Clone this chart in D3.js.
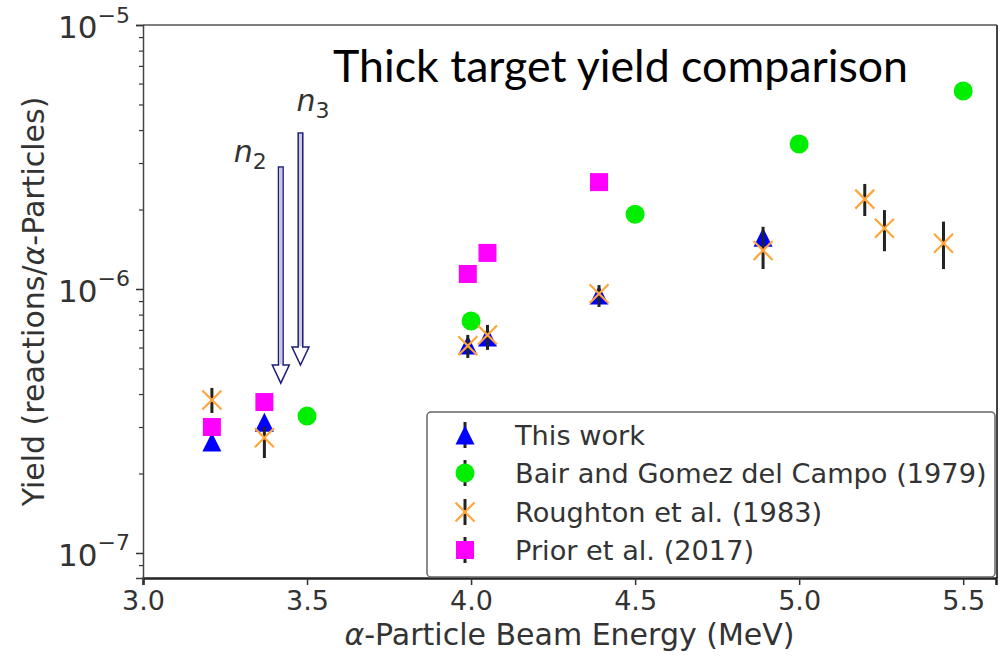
<!DOCTYPE html>
<html>
<head>
<meta charset="utf-8">
<script src="https://cdn.jsdelivr.net/npm/d3@7"></script>
<style>
  html, body { margin: 0; padding: 0; background: #fff; }
  svg { display: block; }
  text { font-family: "DejaVu Sans", sans-serif; }
</style>
</head>
<body>
<svg id="chart" width="1006" height="657"></svg>
<script>
// ---- data -------------------------------------------------------------
// This work (beam energy in MeV, thick target yield)
const thisWorkE = [3.21, 3.37, 3.99, 4.05, 4.39, 4.89];
const thisWorkY = [2.63e-7, 3.13e-7, 6.14e-7, 6.58e-7, 9.48e-7, 1.57e-6];
const thisWorkErr = [0.08e-7, 0.10e-7, 0.25e-7, 0.25e-7, 0.35e-7, 0.6e-7];

// Bair and Gomez del Campo (1979)
const bairE = [3.50, 4.00, 4.50, 5.00, 5.50];
const bairY = [3.30e-7, 7.57e-7, 1.92e-6, 3.54e-6, 5.62e-6];

// Roughton et al. (1983), with lower / upper error
const roughE = [3.21, 3.37, 3.99, 4.05, 4.39, 4.89, 5.20, 5.26, 5.44];
const roughY = [3.80e-7, 2.73e-7, 6.10e-7, 6.70e-7, 9.60e-7, 1.40e-6, 2.19e-6, 1.70e-6, 1.49e-6];
const roughErrLo = [0.41e-7, 0.44e-7, 0.62e-7, 0.82e-7, 1.05e-7, 0.21e-6, 0.30e-6, 0.31e-6, 0.30e-6];
const roughErrHi = [0.42e-7, 0.27e-7, 0.60e-7, 0.61e-7, 0.75e-7, 0.32e-6, 0.31e-6, 0.29e-6, 0.31e-6];

// Prior et al. (2017)
const priorE = [3.21, 3.37, 3.99, 4.05, 4.39];
const priorY = [3.00e-7, 3.73e-7, 1.14e-6, 1.37e-6, 2.54e-6];

// Resonance arrows (energy, tip yield, tail yield, label subscript)
const arrowE = [3.42, 3.48];
const arrowTip = [4.40e-7, 5.15e-7];
const arrowTail = [2.90e-6, 3.90e-6];
const arrowSub = ["2", "3"];

const xTicks = [3.0, 3.5, 4.0, 4.5, 5.0, 5.5];
const yMajor = [1e-7, 1e-6, 1e-5];
const yExp = ["−7", "−6", "−5"];
const legendLabels = ["This work", "Bair and Gomez del Campo (1979)", "Roughton et al. (1983)", "Prior et al. (2017)"];

// ---- layout -----------------------------------------------------------
const svg = d3.select("#chart");
const L = 143, R = 996, T = 25, B = 578;

const x = d3.scaleLinear().domain([3.0, 5.6]).range([L, R]);
const y = d3.scaleLog().domain([8.04e-8, 1e-5]).range([B, T]);

const ink = "#333";

// frame: top & right spines
svg.append("line").attr("x1", L).attr("x2", R + 1).attr("y1", T).attr("y2", T)
  .attr("stroke", "#555").attr("stroke-width", 1.5);
svg.append("line").attr("x1", R + 1).attr("x2", R + 1).attr("y1", T).attr("y2", B)
  .attr("stroke", "#444").attr("stroke-width", 2);

// x axis
const gx = svg.append("g").attr("transform", `translate(0,${B})`)
  .call(d3.axisBottom(x).tickValues(xTicks).tickFormat(d3.format(".1f")).tickSize(7).tickPadding(6));
gx.select(".domain").attr("stroke", "#222").attr("stroke-width", 2.5);
gx.selectAll(".tick line").attr("stroke", ink).attr("stroke-width", 1.5);
gx.selectAll(".tick text").attr("fill", ink).attr("font-size", 27).attr("font-family", "DejaVu Sans");

// y axis: minor ticks
const yMinor = [];
[1e-8, 1e-7, 1e-6].forEach(dec => { for (let k = 2; k <= 9; k++) { const v = k * dec; if (v >= 8.04e-8 && v < 1e-5) yMinor.push(v); } });
const gyMinor = svg.append("g").attr("transform", `translate(${L},0)`)
  .call(d3.axisLeft(y).tickValues(yMinor).tickFormat("").tickSize(4));
gyMinor.select(".domain").remove();
gyMinor.selectAll(".tick line").attr("stroke", ink).attr("stroke-width", 1.2);

// y axis: major ticks with power-of-ten labels
const gy = svg.append("g").attr("transform", `translate(${L},0)`)
  .call(d3.axisLeft(y).tickValues(yMajor).tickFormat("").tickSize(7));
gy.select(".domain").attr("stroke", "#444").attr("stroke-width", 1.5);
gy.selectAll(".tick line").attr("stroke", ink).attr("stroke-width", 1.5);
gy.selectAll(".tick").each(function (d, i) {
  const t = d3.select(this).append("text")
    .attr("x", -13).attr("y", 0).attr("dy", "0.4em")
    .attr("text-anchor", "end").attr("fill", ink).attr("font-size", 31);
  t.append("tspan").text("10");
  t.append("tspan").attr("font-size", 22).attr("dy", "-0.7em").text(yExp[i]);
});

// axis titles
const xl = svg.append("text").attr("x", (L + R) / 2).attr("y", 645)
  .attr("text-anchor", "middle").attr("fill", ink).attr("font-size", 30);
xl.append("tspan").attr("font-style", "italic").text("α");
xl.append("tspan").text("-Particle Beam Energy (MeV)");

const yl = svg.append("text")
  .attr("transform", `translate(44,${(T + B) / 2}) rotate(-90)`)
  .attr("text-anchor", "middle").attr("fill", ink).attr("font-size", 30);
yl.append("tspan").text("Yield (reactions/");
yl.append("tspan").attr("font-style", "italic").text("α");
yl.append("tspan").text("-Particles)");

// ---- marker shapes ----------------------------------------------------
const triPath = s => `M0,${-s}L${-s},${s}L${s},${s}Z`;
const xPath = s => `M${-s},${-s}L${s},${s}M${-s},${s}L${s},${-s}`;
const BLUE = "#0000ff", GREEN = "#00ee00", ORANGE = "#ffa53a", MAGENTA = "#ff00ff", BAR = "#222";

const plot = svg.append("g");

// This work
const tw = d3.range(thisWorkE.length);
plot.append("g").selectAll("line").data(tw).join("line")
  .attr("x1", i => x(thisWorkE[i])).attr("x2", i => x(thisWorkE[i]))
  .attr("y1", i => y(thisWorkY[i] - thisWorkErr[i])).attr("y2", i => y(thisWorkY[i] + thisWorkErr[i]))
  .attr("stroke", BAR).attr("stroke-width", 3);
plot.append("g").selectAll("path").data(tw).join("path")
  .attr("transform", i => `translate(${x(thisWorkE[i])},${y(thisWorkY[i])})`)
  .attr("d", triPath(9.5)).attr("fill", BLUE);

// Bair and Gomez del Campo
plot.append("g").selectAll("circle").data(d3.range(bairE.length)).join("circle")
  .attr("cx", i => x(bairE[i])).attr("cy", i => y(bairY[i])).attr("r", 9.5).attr("fill", GREEN);

// Roughton et al.
const rg = d3.range(roughE.length);
plot.append("g").selectAll("line").data(rg).join("line")
  .attr("x1", i => x(roughE[i])).attr("x2", i => x(roughE[i]))
  .attr("y1", i => y(roughY[i] - roughErrLo[i])).attr("y2", i => y(roughY[i] + roughErrHi[i]))
  .attr("stroke", BAR).attr("stroke-width", 3);
plot.append("g").selectAll("path").data(rg).join("path")
  .attr("transform", i => `translate(${x(roughE[i])},${y(roughY[i])})`)
  .attr("d", xPath(9.5)).attr("fill", "none").attr("stroke", ORANGE).attr("stroke-width", 2.2);

// Prior et al.
plot.append("g").selectAll("rect").data(d3.range(priorE.length)).join("rect")
  .attr("x", i => x(priorE[i]) - 9).attr("y", i => y(priorY[i]) - 9)
  .attr("width", 18).attr("height", 18).attr("fill", MAGENTA);

// ---- resonance arrows -------------------------------------------------
arrowE.forEach((e, i) => {
  const cx = x(e), yTip = y(arrowTip[i]), yTail = y(arrowTail[i]);
  const hw = 8.5, hh = 18, sw = 2.3;
  const g = svg.append("g");
  g.append("path")
    .attr("d", `M${cx - sw},${yTail}L${cx + sw},${yTail}L${cx + sw},${yTip - hh}L${cx + hw},${yTip - hh}L${cx},${yTip}L${cx - hw},${yTip - hh}L${cx - sw},${yTip - hh}Z`)
    .attr("fill", "#fff").attr("stroke", "#1c1c7a").attr("stroke-width", 1.5).attr("stroke-linejoin", "miter");
  g.append("rect").attr("x", cx - sw + 0.9).attr("y", yTail + 0.9)
    .attr("width", 2 * sw - 1.8).attr("height", yTip - hh - yTail - 1.8)
    .attr("fill", "#c8c8e6");
  const lab = svg.append("text").attr("fill", ink).attr("font-size", 30);
  if (i === 0) lab.attr("x", cx - 14).attr("text-anchor", "end").attr("y", yTail - 5);
  else lab.attr("x", cx - 4).attr("text-anchor", "start").attr("y", yTail - 22);
  lab.append("tspan").attr("font-style", "italic").text("n");
  lab.append("tspan").attr("font-size", 22).attr("dy", "0.3em").text(arrowSub[i]);
});

// ---- legend -----------------------------------------------------------
const lg = svg.append("g");
lg.append("rect").attr("x", 427).attr("y", 412).attr("width", 568).attr("height", 165)
  .attr("rx", 4).attr("fill", "#fff").attr("fill-opacity", 0.9)
  .attr("stroke", "#666").attr("stroke-width", 1.5);
const rowY = [435, 473, 512, 550];
const mx = 465;
legendLabels.forEach((lab, i) => {
  const yy = rowY[i];
  lg.append("line").attr("x1", mx).attr("x2", mx).attr("y1", yy - 13).attr("y2", yy + 13)
    .attr("stroke", BAR).attr("stroke-width", 3);
  if (i === 0) lg.append("path").attr("transform", `translate(${mx},${yy})`).attr("d", triPath(9.5)).attr("fill", BLUE);
  if (i === 1) lg.append("circle").attr("cx", mx).attr("cy", yy).attr("r", 9.5).attr("fill", GREEN);
  if (i === 2) lg.append("path").attr("transform", `translate(${mx},${yy})`).attr("d", xPath(9.5)).attr("fill", "none").attr("stroke", ORANGE).attr("stroke-width", 2.2);
  if (i === 3) lg.append("rect").attr("x", mx - 9).attr("y", yy - 9).attr("width", 18).attr("height", 18).attr("fill", MAGENTA);
  lg.append("text").attr("x", 515).attr("y", yy).attr("dy", "0.36em")
    .attr("fill", ink).attr("font-size", 27.2).text(lab);
});

// ---- title ------------------------------------------------------------
svg.append("text").attr("x", 333).attr("y", 82)
  .attr("fill", "#000").attr("font-size", 44)
  .attr("textLength", 575).attr("lengthAdjust", "spacingAndGlyphs")
  .style("font-family", "Lato, 'Open Sans', sans-serif")
  .text("Thick target yield comparison");
</script>
</body>
</html>
